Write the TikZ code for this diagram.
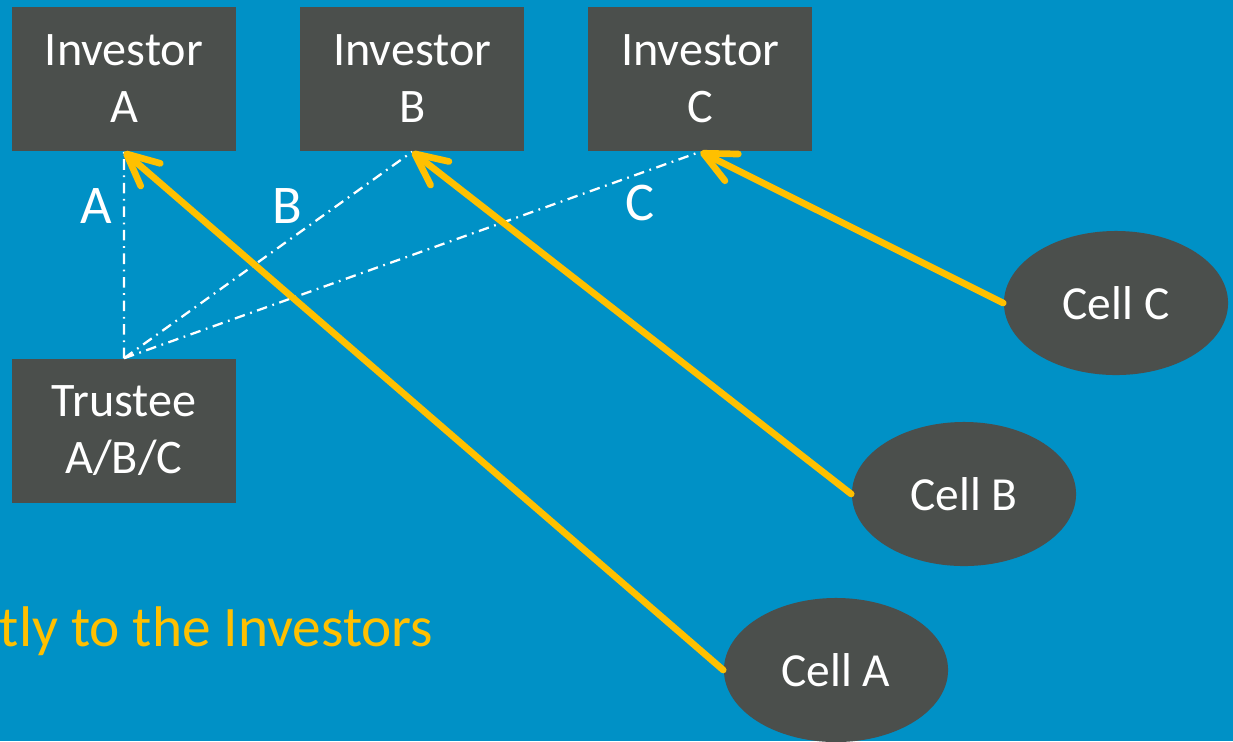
\documentclass[tikz,border=0pt]{standalone}
\usepackage{fontspec}
\setmainfont{Carlito}
\usetikzlibrary{arrows.meta,shapes.geometric,positioning}
\definecolor{bg}{HTML}{0091C6}
\definecolor{boxgray}{HTML}{4B4F4C}
\definecolor{gold}{HTML}{FFC000}
\tikzstyle{party} = [fill=boxgray, text=white, minimum width=2.24cm, minimum height=1.44cm, align=center, font=\fontsize{13.7}{16.2}\selectfont]
\tikzstyle{cell} = [ellipse, fill=boxgray, text=white, minimum width=2.24cm, minimum height=1.44cm, inner sep=0pt, font=\fontsize{13.5}{16}\selectfont]
\tikzstyle{pay} = [draw=gold, line width=1.9pt, line cap=round, -{Straight Barb[round, length=9pt, width=8.5pt]}]
\tikzstyle{link} = [draw=white, line width=0.65pt, dash pattern=on 3pt off 1.6pt on 0.5pt off 1.6pt]
\tikzstyle{tag} = [text=white, font=\fontsize{15.5}{18}\selectfont]

\begin{document}
\begin{tikzpicture}[x=0.01cm, y=-0.01cm, node distance=2.88cm]
    \fill[bg] (0,0) rectangle (1233,741);
    \clip (0,0) rectangle (1233,741);
    \node[party] (invA) at (124,79) {Investor\\A};
    \node[party, right of=invA] (invB) {Investor\\B};
    \node[party, right of=invB] (invC) {Investor\\C};
    \node[party] (trustee) at (124,431) {Trustee\\A/B/C};
    \node[cell] (cellC) at (1116,303) {Cell C};
    \node[cell] (cellB) at (964,494) {Cell B};
    \node[cell] (cellA) at (836,670) {Cell A};
    \node[tag] (tagA) at (96,206) {A};
    \node[tag] (tagB) at (287,206) {B};
    \node[tag] (tagC) at (640,203) {C};
    \node[text=gold, inner sep=0pt, font=\fontsize{16.3}{20}\selectfont, anchor=base east] (note) at (434,646) {tly to the Investors};
    \draw[link]
      (trustee.north) -- (invA.south)
      (trustee.north) -- (invB.south)
      (trustee.north) -- (invC.south)
    ;
    \draw[pay] (cellA.west) -- (invA.south);
    \draw[pay] (cellB.west) -- (invB.south);
    \draw[pay] (cellC.west) -- (invC.south);
\end{tikzpicture}
\end{document}
